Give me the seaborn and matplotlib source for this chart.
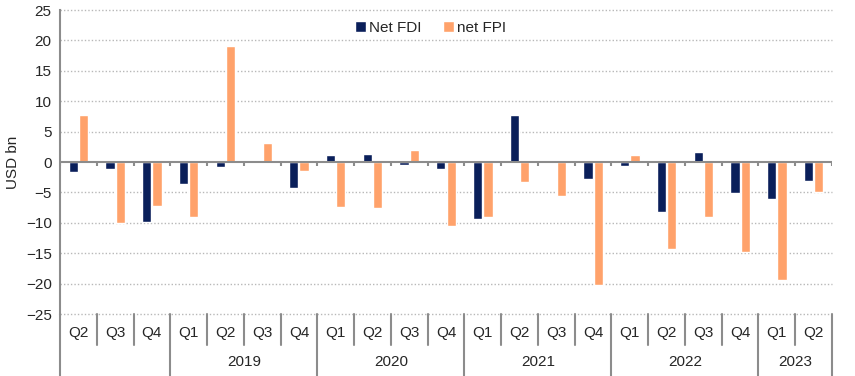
import numpy as np
import pandas as pd
import matplotlib
matplotlib.use('Agg')
import matplotlib.pyplot as plt
import matplotlib.transforms as mtransforms
import seaborn as sns

# Data (USD bn)
quarters = ['Q2', 'Q3', 'Q4',
            'Q1', 'Q2', 'Q3', 'Q4',
            'Q1', 'Q2', 'Q3', 'Q4',
            'Q1', 'Q2', 'Q3', 'Q4',
            'Q1', 'Q2', 'Q3', 'Q4',
            'Q1', 'Q2']
years = ['2018'] * 3 + ['2019'] * 4 + ['2020'] * 4 + ['2021'] * 4 + ['2022'] * 4 + ['2023'] * 2
year_labels = ['', '2019', '2020', '2021', '2022', '2023']
net_fdi = [-1.6, -1.2, -9.8, -3.7, -0.8, 0.0, -4.2,
           1.1, 1.3, -0.5, -1.2, -9.4, 7.8, 0.0, -2.8,
           -0.7, -8.2, 1.7, -5.1, -6.1, -3.2]
net_fpi = [7.8, -10.0, -7.2, -9.0, 19.0, 3.1, -1.4,
           -7.4, -7.6, 2.0, -10.5, -9.1, -3.3, -5.6, -20.3,
           1.1, -14.3, -9.1, -14.8, -19.4, -4.9]

periods = [y + ' ' + q for y, q in zip(years, quarters)]
df = pd.DataFrame({
    'period': periods * 2,
    'value': net_fdi + net_fpi,
    'series': ['Net FDI'] * len(periods) + ['net FPI'] * len(periods),
})

sns.set_style('white')
plt.rcParams['font.family'] = ['Arial', 'Liberation Sans', 'DejaVu Sans']

fig = plt.figure(figsize=(8.55, 3.76), dpi=100)
ax = fig.add_axes([60 / 855, 62 / 376, 772 / 855, 304 / 376])

sns.barplot(data=df, x='period', y='value', hue='series', order=periods,
            palette={'Net FDI': '#0a1f5a', 'net FPI': '#ffa26b'},
            width=0.56, gap=0.1, saturation=1, ax=ax)

n = len(periods)
ax.set_xlim(-0.5, n - 0.5)
ax.set_ylim(-25, 25)
ax.set_yticks(range(-25, 30, 5))
ax.tick_params(axis='y', length=0, labelsize=11, pad=6)
ax.set_ylabel('USD bn', fontsize=11, labelpad=4)
ax.set_xlabel('')

# dotted gridlines
for v in range(-25, 30, 5):
    if v != 0:
        ax.axhline(v, color='#b8b8b8', lw=1, ls=(0, (1, 1.5)), zorder=0,
                   clip_on=False)
ax.axhline(0, color='#8c8c8c', lw=1.5, zorder=3)

for s in ['top', 'right', 'bottom']:
    ax.spines[s].set_visible(False)
ax.spines['left'].set_color('#8c8c8c')
ax.spines['left'].set_linewidth(1.5)

# category labels
ax.set_xticks(range(n))
ax.set_xticklabels(quarters, fontsize=11)
ax.tick_params(axis='x', length=0, pad=9)

trans = mtransforms.blended_transform_factory(ax.transData, ax.transAxes)
bounds = np.arange(n + 1) - 0.5
year_starts = [0] + [i for i in range(1, n) if years[i] != years[i - 1]] + [n]
for b in range(n + 1):
    x = bounds[b]
    low = -62 / 304 if b in year_starts else -31 / 304
    ax.plot([x, x], [0, low], transform=trans, color='#8c8c8c', lw=1.5,
            clip_on=False)
    # small ticks below the zero line
    ax.plot([x, x], [0, -0.7], color='#8c8c8c', lw=1.5, zorder=3,
            solid_capstyle='butt')

for k in range(len(year_starts) - 1):
    mid = (year_starts[k] + year_starts[k + 1] - 1) / 2
    ax.text(mid, -48 / 304, year_labels[k], transform=trans,
            ha='center', va='center', fontsize=11)

ax.legend(loc='upper center', bbox_to_anchor=(0.48, 1.0), ncol=2, frameon=False,
          fontsize=11, handlelength=0.7, handleheight=0.7, handletextpad=0.2,
          columnspacing=1.4, borderaxespad=0.3)

fig.savefig('out.png', dpi=100)
